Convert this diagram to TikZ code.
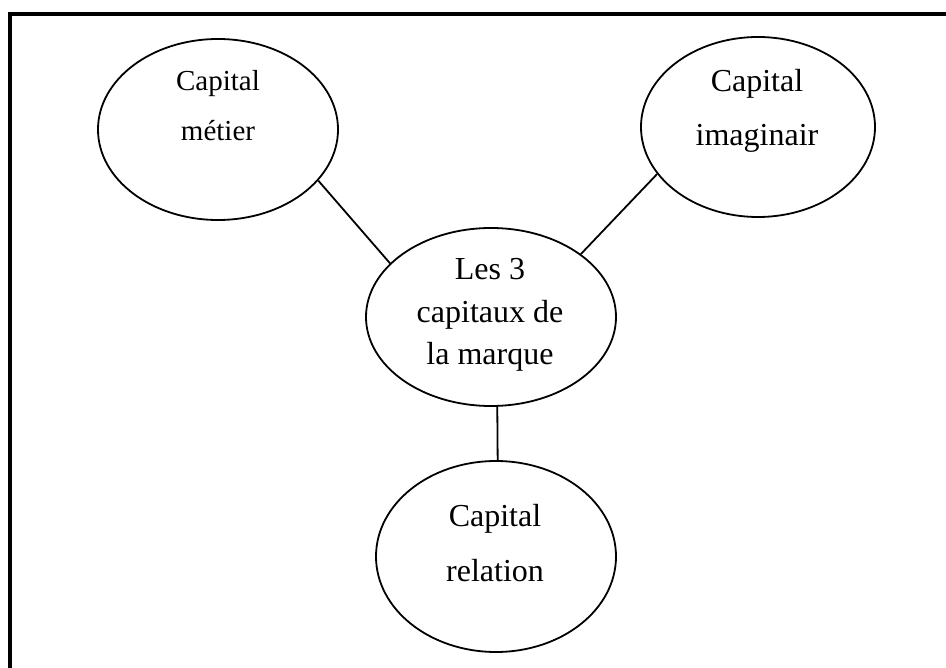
\documentclass[tikz,border=0pt]{standalone}
\usepackage{fontspec}
\setmainfont{Liberation Serif}
\usetikzlibrary{shapes.geometric}
\begin{document}
\begin{tikzpicture}[x=1pt,y=-1pt,
  bubble/.style={draw=black,ellipse,line width=1.8pt,inner sep=0pt},
  label32/.style={anchor=base,align=center,inner sep=0pt,font=\fontsize{32}{54}\selectfont},
  link/.style={draw=black,line width=1.8pt}]
\useasboundingbox (0,0) rectangle (946,668);
\fill[white] (0,0) rectangle (946,668);
\draw[line width=4pt] (10,668) -- (10,14) -- (946,14);
% ellipses
\node[bubble,minimum width=240pt,minimum height=181pt] (metier) at (218,129.5) {};
\node[bubble,minimum width=234pt,minimum height=180pt] (imag) at (758,127) {};
\node[bubble,minimum width=250pt,minimum height=178pt] (centre) at (491,317) {};
\node[bubble,minimum width=240pt,minimum height=191pt] (relation) at (496,556.5) {};
% texts (anchor base = last line baseline)
\node[label32,font=\fontsize{29}{50}\selectfont] (tmetier) at (218,140.7) {Capital\\métier};
\node[label32] (timag) at (757,146) {Capital\\imaginair};
\node[label32,font=\fontsize{32}{42.5}\selectfont] (tcentre) at (490,365) {Les 3\\capitaux de\\la marque};
\node[label32,font=\fontsize{32}{55}\selectfont] (trelation) at (495,581) {Capital\\relation};
% connectors
\draw[link] (metier.-27) -- (centre.152);
\draw[link] (imag.205) -- (centre.35);
\draw[link] (centre.-86) -- (relation.89.4);
\end{tikzpicture}
\end{document}
